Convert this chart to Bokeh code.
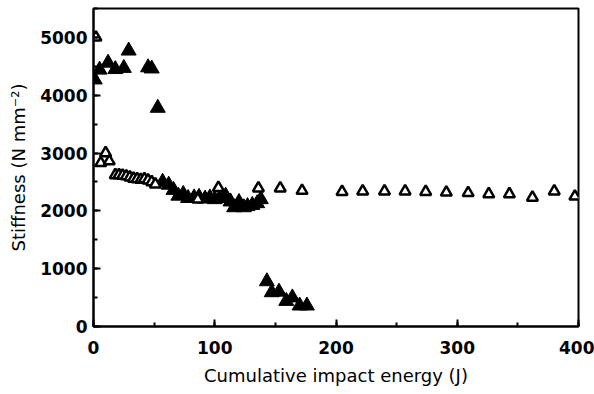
from bokeh.plotting import figure
from bokeh.models import Range1d, SingleIntervalTicker, ColumnDataSource
from bokeh.embed import file_html
from bokeh.resources import INLINE

# Filled triangles
filled_x = [1, 5, 12, 18, 25, 29, 45, 48, 53,
            57, 62, 66, 70, 74, 78, 83, 87, 92, 96, 100, 104, 109, 113, 116,
            120, 124, 127, 131, 135, 138,
            143, 147, 153, 159, 164, 170, 176]
filled_y = [4270, 4440, 4560, 4450, 4470, 4770, 4480, 4460, 3780,
            2500, 2450, 2360, 2260, 2290, 2220, 2230, 2240, 2210, 2230, 2200, 2220, 2260, 2160, 2060,
            2150, 2060, 2080, 2100, 2130, 2200,
            780, 590, 600, 440, 500, 360, 360]

# Open triangles
open_x = [2, 6, 10, 13,
          18, 21, 24, 27, 30, 33, 36, 39, 42, 45, 48, 51,
          86, 103, 136, 154, 172,
          205, 222, 240, 257, 274, 291, 309, 326, 343, 362, 380, 397]
open_y = [5000, 2830, 3000, 2860,
          2620, 2620, 2610, 2600, 2580, 2560, 2550, 2540, 2550, 2530, 2500, 2460,
          2200, 2400, 2390, 2390, 2350,
          2330, 2340, 2340, 2340, 2330, 2320, 2310, 2290, 2290, 2230, 2340, 2250]

x_label = "Cumulative impact energy (J)"
y_label = "Stiffness (N mm⁻²)"

p = figure(width=594, height=394, output_backend="svg", toolbar_location=None,
           x_range=Range1d(0, 400), y_range=Range1d(0, 5500),
           min_border_left=93, min_border_right=16, min_border_top=8, min_border_bottom=68)

p.grid.visible = False
p.outline_line_color = "black"
p.outline_line_width = 2
p.outline_line_alpha = 1

p.xaxis.ticker = SingleIntervalTicker(interval=100, num_minor_ticks=2)
p.yaxis.ticker = SingleIntervalTicker(interval=1000, num_minor_ticks=2)

for ax in (p.xaxis, p.yaxis):
    ax.axis_line_width = 2
    ax.axis_line_color = "black"
    ax.major_tick_in = 7
    ax.major_tick_out = 0
    ax.minor_tick_in = 4
    ax.minor_tick_out = 0
    ax.major_tick_line_width = 2
    ax.minor_tick_line_width = 2
    ax.major_tick_line_color = "black"
    ax.minor_tick_line_color = "black"
    ax.major_label_text_font = "DejaVu Sans"
    ax.major_label_text_font_size = "17px"
    ax.major_label_text_font_style = "bold"
    ax.major_label_text_color = "black"
    ax.axis_label_text_font = "DejaVu Sans"
    ax.axis_label_text_font_size = "18px"
    ax.axis_label_text_font_style = "normal"
    ax.axis_label_text_color = "black"

p.xaxis.major_label_standoff = 14
p.yaxis.major_label_standoff = 6
p.xaxis.axis_label_standoff = 8
p.yaxis.axis_label_standoff = 8

src_f = ColumnDataSource(dict(x=filled_x, y=filled_y))
src_o = ColumnDataSource(dict(x=open_x, y=open_y))

p.scatter("x", "y", source=src_f, marker="triangle", size=15,
          fill_color="black", line_color="black", line_width=1)
p.scatter("x", "y", source=src_o, marker="triangle", size=11,
          fill_color="white", line_color="black", line_width=2.5)

p.xaxis.axis_label = x_label
p.yaxis.axis_label = y_label

open("out.html", "w").write(file_html(p, INLINE))
